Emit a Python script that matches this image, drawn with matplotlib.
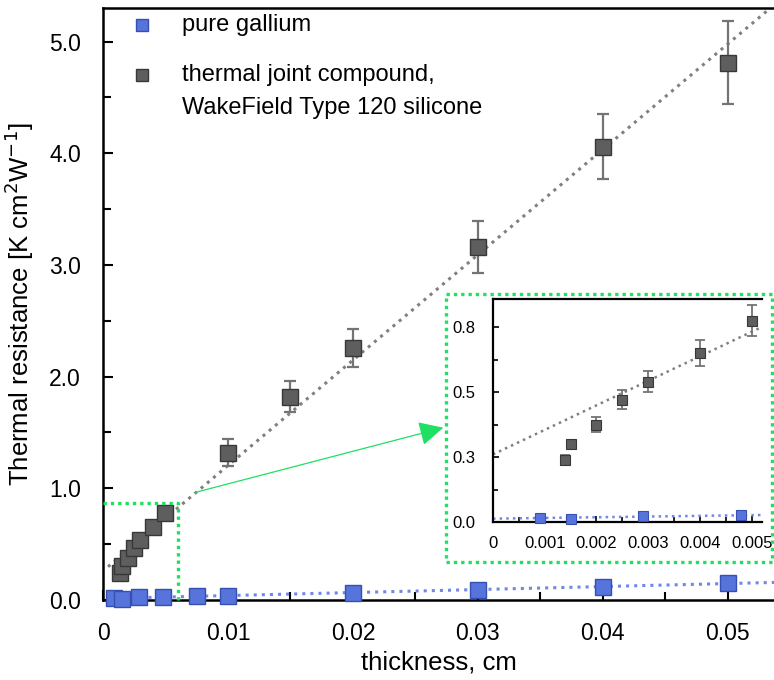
import numpy as np
import matplotlib
matplotlib.use("Agg")
import matplotlib.pyplot as plt
from matplotlib.patches import Rectangle, FancyArrowPatch

plt.rcParams['font.family'] = ['Liberation Sans', 'DejaVu Sans']

# pure gallium
ga_x = [0.0009, 0.0015, 0.0029, 0.0048, 0.0075, 0.01, 0.02, 0.03, 0.04, 0.05]
ga_y = [0.015, 0.013, 0.024, 0.028, 0.035, 0.04, 0.065, 0.09, 0.12, 0.15]

# thermal joint compound
tj_x = [0.0014, 0.0015, 0.002, 0.0025, 0.003, 0.004, 0.005,
        0.01, 0.015, 0.02, 0.03, 0.04, 0.05]
tj_y = [0.24, 0.30, 0.375, 0.47, 0.54, 0.65, 0.775,
        1.32, 1.82, 2.26, 3.16, 4.06, 4.81]
tj_err = [0.019, 0.01, 0.03, 0.037, 0.04, 0.05, 0.058,
          0.12, 0.14, 0.17, 0.23, 0.29, 0.37]

ga_label = "pure gallium"
tj_label = ["thermal joint compound,", "WakeField Type 120 silicone"]

inset_yticks = [0, 0.25, 0.5, 0.75]
inset_ylabels = ["0.0", "0.3", "0.5", "0.8"]
inset_xticks = [0, 0.001, 0.002, 0.003, 0.004, 0.005]
inset_xlabels = ["0", "0.001", "0.002", "0.003", "0.004", "0.005"]

blue_face, blue_edge = '#5674DC', '#3550B0'
gray_face, gray_edge = '#5E5E5E', '#383838'
err_col = '#747474'
green = '#1EE062'

# linear fits
tj_fit = np.polyfit(tj_x, tj_y, 1)
ga_fit = np.polyfit(ga_x, ga_y, 1)

fig = plt.figure(figsize=(7.74, 6.8), dpi=100)
ax = fig.add_axes([103/774, 80/680, 671/774, 592/680])

xl = (0, 0.0537)
xx = np.linspace(0.0004, xl[1], 50)
ax.plot(xx, np.polyval(tj_fit, xx), color='#808080', lw=2.2, ls=':', zorder=2)
ax.plot(xx, np.polyval(ga_fit, xx), color='#6F88E6', lw=2.2, ls=':', zorder=2)

ax.errorbar(tj_x, tj_y, yerr=tj_err, fmt='none', ecolor=err_col, elinewidth=1.6,
            capsize=4.5, capthick=1.6, zorder=3)
ax.plot(tj_x, tj_y, 's', ms=11, mfc=gray_face, mec=gray_edge, mew=1, zorder=4)
ax.plot(ga_x, ga_y, 's', ms=11, mfc=blue_face, mec=blue_edge, mew=1, zorder=4,
        clip_on=False)

ax.set_xlim(*xl)
ax.set_ylim(0, 5.3)
ax.set_xticks([0, 0.01, 0.02, 0.03, 0.04, 0.05])
ax.set_xticklabels(["0", "0.01", "0.02", "0.03", "0.04", "0.05"])
ax.set_xticks(np.arange(0.005, 0.054, 0.01), minor=True)
ax.set_yticks(np.arange(0, 5.1, 1.0))
ax.set_yticklabels(["%.1f" % v for v in np.arange(0, 5.1, 1.0)])
ax.set_yticks(np.arange(0.5, 5.3, 1.0), minor=True)
ax.tick_params(which='both', direction='in', labelsize=16.5, pad=16, width=1.5)
ax.tick_params(which='major', length=7)
ax.tick_params(which='minor', length=6)
for s in ['left', 'bottom', 'top']:
    ax.spines[s].set_linewidth(1.8)
ax.spines['right'].set_visible(False)

ax.set_xlabel("thickness, cm", fontsize=18.5, labelpad=4)
ax.set_ylabel(r"Thermal resistance [K cm$^2$W$^{-1}$]", fontsize=18.5, labelpad=9)

# legend drawn by hand
ax.plot([0.058], [0.971], 's', ms=9, mfc=blue_face, mec=blue_edge,
        transform=ax.transAxes, clip_on=False)
ax.plot([0.058], [0.887], 's', ms=9, mfc=gray_face, mec=gray_edge,
        transform=ax.transAxes, clip_on=False)
ax.text(0.118, 0.971, ga_label, transform=ax.transAxes, fontsize=17, va='center')
ax.text(0.118, 0.887, tj_label[0], transform=ax.transAxes, fontsize=17, va='center')
ax.text(0.118, 0.831, tj_label[1], transform=ax.transAxes, fontsize=17, va='center')

# zoom box in the main plot
ax.plot([0, 0.006, 0.006], [0.87, 0.87, 0], color=green, lw=2.4,
        ls=(0, (1, 1.2)), zorder=5, clip_on=False)

# inset
ins = fig.add_axes([493/774, 158/680, 269/774, 223/680])
xi = np.linspace(0, 0.0052, 30)
ins.plot(xi, np.polyval(tj_fit, xi), color='#808080', lw=1.8, ls=':', zorder=2)
ins.plot(xi, np.polyval(ga_fit, xi), color='#6F88E6', lw=1.8, ls=':', zorder=2)
n_in = 7
ins.errorbar(tj_x[:n_in], tj_y[:n_in], yerr=tj_err[:n_in], fmt='none',
             ecolor=err_col, elinewidth=1.3, capsize=3.5, capthick=1.3, zorder=3)
ins.plot(tj_x[:n_in], tj_y[:n_in], 's', ms=7, mfc=gray_face, mec=gray_edge,
         mew=0.8, zorder=4)
ins.plot(ga_x[:4], ga_y[:4], 's', ms=7, mfc=blue_face, mec=blue_edge,
         mew=0.8, zorder=4, clip_on=False)
ins.set_xlim(0, 0.0052)
ins.set_ylim(0, 0.858)
ins.set_xticks(inset_xticks)
ins.set_xticklabels(inset_xlabels)
ins.set_xticks(np.arange(0.0005, 0.0052, 0.001), minor=True)
ins.set_yticks(inset_yticks)
ins.set_yticklabels(inset_ylabels)
ins.set_yticks(np.arange(0.125, 0.86, 0.25), minor=True)
ins.tick_params(which='both', direction='in', labelsize=12, width=1.2)
ins.tick_params(which='major', length=4.5)
ins.tick_params(which='minor', length=3.5)
ins.tick_params(axis='y', pad=13)
ins.tick_params(axis='x', pad=10)
for s in ['left', 'bottom', 'top']:
    ins.spines[s].set_linewidth(1.6)
ins.spines['right'].set_visible(False)

# dotted frame around inset
fig.add_artist(Rectangle((446/774, 118/680), 326/774, 268/680, fill=False,
                         ec=green, lw=2.4, ls=(0, (1, 1.2)),
                         transform=fig.transFigure))

# arrow from zoom box to inset
fig.add_artist(FancyArrowPatch(
    (193/774, 187/680), (446/774, 253/680), transform=fig.transFigure,
    arrowstyle='-|>,head_length=10,head_width=5', color=green, lw=0.9,
    mutation_scale=1.5))

fig.savefig("out.png", dpi=100)
